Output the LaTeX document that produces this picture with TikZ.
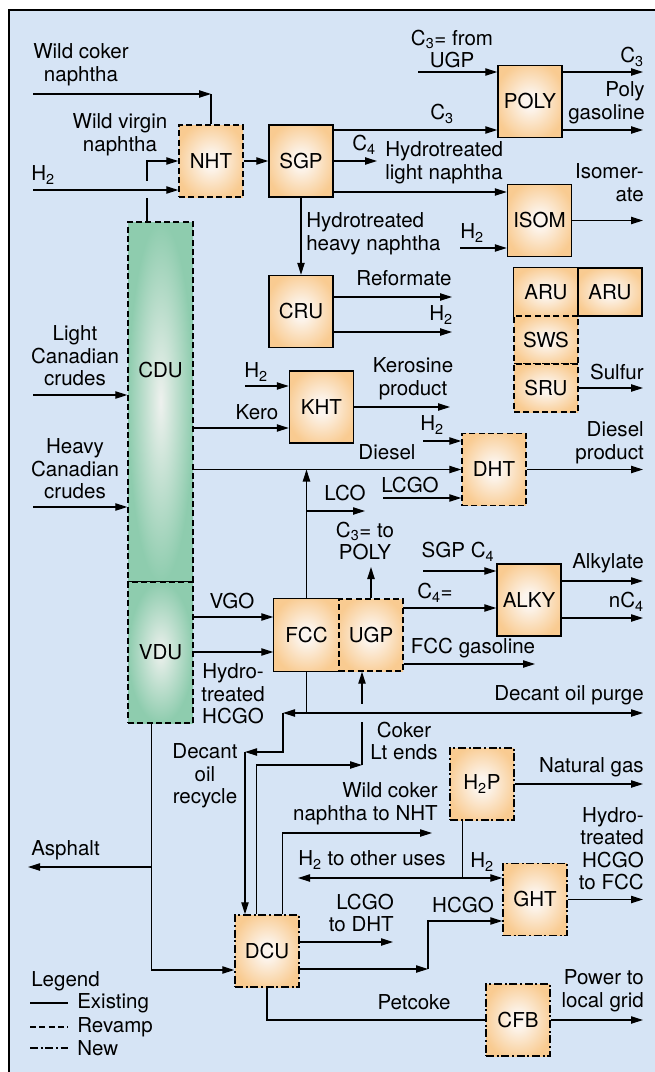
\documentclass[tikz,border=0pt]{standalone}
\usepackage{fontspec}
\setmainfont{TeX Gyre Heros}
\usetikzlibrary{positioning,calc,arrows.meta}
\definecolor{bgblue}{RGB}{214,228,245}
\definecolor{boxorange}{RGB}{249,203,145}
\definecolor{boxcream}{RGB}{252,245,238}
\definecolor{colgreen}{RGB}{142,204,174}
\definecolor{colpale}{RGB}{238,241,238}
\pgfdeclareradialshading{unitglow}{\pgfpoint{0bp}{0bp}}{color(0bp)=(boxcream); color(5bp)=(boxcream); color(28bp)=(boxorange); color(50bp)=(boxorange)}

\begin{document}
\begin{tikzpicture}[x=0.75pt, y=-0.75pt,
  every node/.style={font=\fontsize{15.4}{16.9}\selectfont},
  unit/.style={rectangle, draw, line width=1.1pt, shading=unitglow, minimum width=48pt, minimum height=54pt, inner sep=0pt},
  column/.style={rectangle, draw, line width=1pt, shading=radial, inner color=colpale, outer color=colgreen, minimum width=48.75pt, inner sep=0pt},
  revamp/.style={dash pattern=on 4.5pt off 2.5pt},
  newunit/.style={dash pattern=on 6pt off 2pt on 1.5pt off 2pt},
  flow/.style={line width=0.9pt},
  arr/.style={flow, -{Triangle[length=9pt,width=5.5pt]}},
  lbl/.style={inner sep=0pt, align=center},
  lblr/.style={inner sep=0pt, align=right, anchor=east},
  lbll/.style={inner sep=0pt, align=left, anchor=west}]

\useasboundingbox (0,0) rectangle (655,1072);
\clip (0,0) rectangle (655,1072);
\draw[fill=bgblue, line width=1pt] (9,10) rectangle (680,1100);

% process units
\node[unit, revamp] (nht) at (211,161) {NHT};
\node[unit] (sgp) at (301,161) {SGP};
\node[unit] (poly) at (530,101.5) {POLY};
\node[unit] (isom) at (539.5,220.5) {ISOM};
\node[unit] (cru) at (301,311.5) {CRU};
\node[unit, draw=none, minimum height=36pt] (aru) at (546,292) {ARU};
\node[unit, minimum height=36pt] (aru2) at (610,292) {ARU};
\draw[line width=1.1pt] (aru.south west) -- (aru.north west) -- (aru.north east);
\node[unit, revamp, minimum height=36pt] (sws) at (546,340) {SWS};
\node[unit, revamp, minimum height=36pt] (sru) at (546,388) {SRU};
\node[unit] (kht) at (321.5,407) {KHT};
\node[unit, revamp] (dht) at (494,469.5) {DHT};
\node[unit, draw=none, minimum width=48.75pt] (fcc) at (306.5,635) {FCC};
\node[unit, revamp] (ugp) at (371,635) {UGP};
\draw[line width=1.1pt] (fcc.north east) -- (fcc.north west) -- (fcc.south west) -- (fcc.south east);
\node[unit] (alky) at (529,600) {ALKY};
\node[unit, newunit] (h2p) at (482,784) {H\textsubscript{2}P};
\node[unit, newunit] (ght) at (535,899.5) {GHT};
\node[unit, newunit] (dcu) at (267,951) {DCU};
\node[unit, newunit] (cfb) at (518,1020) {CFB};
\node[column, revamp, minimum height=270pt] (cdu) at (160.5,402) {};
\node[column, revamp, minimum height=105.75pt] (vdu) at (160.5,652.5) {VDU};
\node[lbl] (cdulbl) at (160.5,370) {CDU};

% naphtha section
\coordinate (wcn) at (33,94);
\coordinate (wcnbend) at (211,94);
\draw[arr] (wcn) -- (wcnbend);
\draw[flow] (wcnbend) -- (nht.north);
\coordinate (cdutap) at (147,222);
\draw[arr] (cdutap) |- (nht.west);
\fill[bgblue] (142,181) rectangle (152,198);
\coordinate (nhth2) at (33,190);
\draw[arr] (nhth2) -- (nhth2 -| nht.west);
\draw[arr] (nht) -- (sgp);
\coordinate (c3from) at (418,72);
\coordinate (c3out) at (643,72);
\draw[arr] (c3from) -- (c3from -| poly.west);
\draw[arr] (c3from -| poly.east) -- (c3out);
\coordinate (c3sgp) at (333,130);
\coordinate (polygas) at (643,130);
\draw[arr] (c3sgp) -- (c3sgp -| poly.west);
\draw[arr] (polygas -| poly.east) -- (polygas);
\coordinate (c4out) at (377,161);
\draw[arr] (sgp) -- (c4out);
\coordinate (lnap) at (333,192);
\draw[arr] (lnap) -- (lnap -| isom.west);
\coordinate (isomh2) at (460,248);
\draw[arr] (isomh2) -- (isomh2 -| isom.west);
\coordinate (isomout) at (643,220.5);
\draw[arr] (isom) -- (isomout);
\draw[arr] (sgp) -- (cru);
\coordinate (refout) at (452,297);
\draw[arr] (refout -| cru.east) -- (refout);
\coordinate (cruh2) at (452,332);
\draw[arr] (cruh2 -| cru.east) -- (cruh2);
\coordinate (sulfur) at (643,388);
\draw[arr] (sru) -- (sulfur);

% crude and distillates
\coordinate (lcc) at (33,395);
\draw[arr] (lcc) -- (lcc -| cdu.west);
\coordinate (hcc) at (33,507);
\draw[arr] (hcc) -- (hcc -| cdu.west);
\coordinate (kero) at (193,428);
\draw[arr] (kero) -- (kero -| kht.west);
\coordinate (khth2) at (245,386);
\draw[arr] (khth2) -- (khth2 -| kht.west);
\coordinate (kerout) at (450,407);
\draw[arr] (kht) -- (kerout);
\draw[arr] (cdu.east |- dht) -- (dht);
\coordinate (dhth2) at (423,441);
\draw[arr] (dhth2) -- (dhth2 -| dht.west);
\coordinate (lcgoin) at (383,498);
\draw[arr] (lcgoin) -- (lcgoin -| dht.west);
\coordinate (dslout) at (643,469.5);
\draw[arr] (dht) -- (dslout);

% FCC and alky
\draw[arr] (fcc.north) -- (fcc.north |- dht);
\coordinate (lco) at (365,511);
\draw[arr] (fcc.north |- lco) -- (lco);
\coordinate (c3poly) at (371,567);
\draw[arr] (ugp.north) -- (c3poly);
\coordinate (c4eq) at (403,608);
\draw[arr] (c4eq) -- (c4eq -| alky.west);
\coordinate (sgpc4) at (423,571);
\draw[arr] (sgpc4) -- (sgpc4 -| alky.west);
\coordinate (alkout) at (643,581);
\coordinate (nc4out) at (643,618);
\draw[arr] (alkout -| alky.east) -- (alkout);
\draw[arr] (nc4out -| alky.east) -- (nc4out);
\coordinate (fccgas) at (535,664);
\draw[arr] (fccgas -| ugp.east) -- (fccgas);
\coordinate (vgo) at (193,617);
\draw[arr] (vgo) -- (vgo -| fcc.west);
\coordinate (hcgoin) at (193,652);
\draw[arr] (hcgoin) -- (hcgoin -| fcc.west);

% coker
\coordinate (ltfoot) at ($(dcu.north west)+(22,0)$);
\coordinate (ltbend) at (362,765);
\draw[arr] (ltfoot) |- (ltbend);
\draw[arr] (ltbend) -- (ltbend |- ugp.south);
\fill[bgblue] (357,704) rectangle (367,722);
\coordinate (purge) at (643,713);
\coordinate (recbend) at (283,713);
\coordinate (recdrop) at (245,752);
\draw[flow] (fcc.south) -- (fcc.south |- purge);
\draw[arr] (fcc.south |- purge) -- (purge);
\draw[arr] (fcc.south |- purge) -- (recbend);
\draw[arr] (recbend) |- (recdrop);
\draw[arr] (recdrop) -- (recdrop |- dcu.north);
\coordinate (wcfoot) at ($(dcu.north west)+(48,0)$);
\coordinate (wcnht) at (432,833);
\draw[arr] (wcfoot) |- (wcnht);
\coordinate (natgas) at (643,784);
\draw[arr] (h2p) -- (natgas);
\coordinate (h2tap) at ($(h2p.south west)+(13,0)$);
\coordinate (h2other) at (298,878);
\draw[flow] (h2tap) -- (h2tap |- h2other);
\draw[arr] (h2tap |- h2other) -- (h2other);
\draw[arr] (h2tap |- h2other) -- (h2other -| ght.west);
\coordinate (lcgodht) at (393,942);
\draw[arr] (lcgodht -| dcu.east) -- (lcgodht);
\coordinate (hcgobend) at (428,969);
\coordinate (hcgoght) at (428,921);
\draw[arr] (hcgobend -| dcu.east) -- (hcgobend);
\draw[arr] (hcgobend) -- (hcgoght) -- (hcgoght -| ght.west);
\coordinate (ghtout) at (643,899.5);
\draw[arr] (ght) -- (ghtout);
\draw[flow] (dcu.south) |- (cfb.west);
\coordinate (power) at (643,1020);
\draw[arr] (cfb) -- (power);
\coordinate (vdufoot) at ($(vdu.south west)+(24,0)$);
\coordinate (dcuin) at ($(dcu.west)+(0,19)$);
\coordinate (asphalt) at (28,867);
\draw[arr] (vdufoot) |- (dcuin);
\draw[arr] (vdufoot |- asphalt) -- (asphalt);

% legend
\coordinate (legex) at (30,1003);
\coordinate (legrv) at (30,1027);
\coordinate (legnw) at (30,1048);
\draw[flow] (legex) -- ++(38,0);
\draw[flow, revamp] (legrv) -- ++(38,0);
\draw[flow, newunit] (legnw) -- ++(38,0);
\node[lbll] (leg) at (31,981) {Legend};
\node[lbll] (legext) at (77,1003) {Existing};
\node[lbll] (legrvt) at (77,1027) {Revamp};
\node[lbll] (legnwt) at (77,1048) {New};

% stream labels
\node[lbl] (twcn) at (81,64.5) {Wild coker\\naphtha};
\node[lbl] (twvn) at (120,134.5) {Wild virgin\\naphtha};
\node[lbll] (tnhth2) at (31,175) {H\textsubscript{2}};
\node[lbl] (tc3from) at (452,49) {C\textsubscript{3}= from\\UGP};
\node[lblr] (tc3out) at (644,57) {C\textsubscript{3}};
\node[lblr] (tpolygas) at (645,102.5) {Poly\\gasoline};
\node[lbl] (tc3) at (442,114) {C\textsubscript{3}};
\node[lbl] (tc4) at (364,145) {C\textsubscript{4}};
\node[lbll] (tlnap) at (385,162.5) {Hydrotreated\\light naphtha};
\node[lblr] (tisom) at (644,182.5) {Isomer-\\ate};
\node[lbll] (thnap) at (306,234) {Hydrotreated\\heavy naphtha};
\node[lbl] (tisomh2) at (472,233) {H\textsubscript{2}};
\node[lbl] (tref) at (404,278) {Reformate};
\node[lblr] (tcruh2) at (453,315) {H\textsubscript{2}};
\node[lblr] (tsulfur) at (644,372) {Sulfur};
\node[lbl] (tlcc) at (75,356) {Light\\Canadian\\crudes};
\node[lbl] (thcc) at (75,469) {Heavy\\Canadian\\crudes};
\node[lbl] (tkhth2) at (256,372) {H\textsubscript{2}};
\node[lbl] (tkero) at (257,412) {Kero};
\node[lbl] (tkerout) at (413,378.5) {Kerosine\\product};
\node[lbl] (tdhth2) at (432,425) {H\textsubscript{2}};
\node[lbl] (tdiesel) at (387,452) {Diesel};
\node[lblr] (tdslout) at (644,442.5) {Diesel\\product};
\node[lbl] (tlco) at (345,493) {LCO};
\node[lbl] (tlcgo) at (410,485) {LCGO};
\node[lbl] (tc3poly) at (365,541) {C\textsubscript{3}= to\\POLY};
\node[lbl] (tsgpc4) at (458,552) {SGP C\textsubscript{4}};
\node[lbl] (tc4eq) at (435,593) {C\textsubscript{4}=};
\node[lblr] (talk) at (644,563) {Alkylate};
\node[lblr] (tnc4) at (644,602) {nC\textsubscript{4}};
\node[lbl] (tfccgas) at (473,648) {FCC gasoline};
\node[lbl] (tvgo) at (232,601) {VGO};
\node[lbl] (thcgoin) at (233,694) {Hydro-\\treated\\HCGO};
\node[lblr] (tpurge) at (644,695) {Decant oil purge};
\node[lbl] (trecycle) at (205,776) {Decant\\oil\\recycle};
\node[lbl] (tlt) at (404,741) {Coker\\Lt ends};
\node[lblr] (tnatgas) at (644,767) {Natural gas};
\node[lblr] (twcnht) at (438,804) {Wild coker\\naphtha to NHT};
\node[lbl] (th2other) at (372,860) {H\textsubscript{2} to other uses};
\node[lbl] (tgh2) at (482,862) {H\textsubscript{2}};
\node[lblr] (tghtout) at (644,848.5) {Hydro-\\treated\\HCGO\\to FCC};
\node[lblr] (tlcgodht) at (394,913) {LCGO\\to DHT};
\node[lbl] (thcgo) at (463,905) {HCGO};
\node[lbll] (tasphalt) at (31,850) {Asphalt};
\node[lbl] (tpetcoke) at (414,1002) {Petcoke};
\node[lblr] (tpower) at (644,990.5) {Power to\\local grid};
\end{tikzpicture}
\end{document}
